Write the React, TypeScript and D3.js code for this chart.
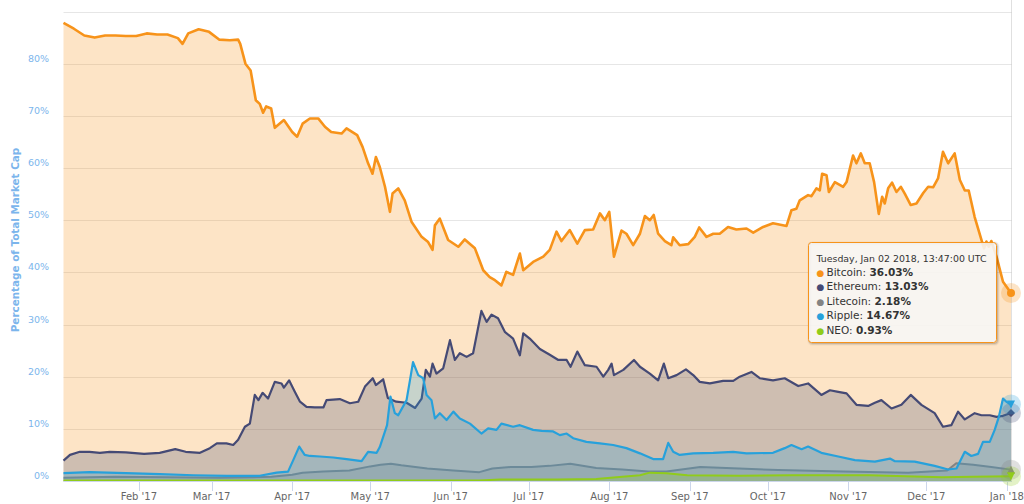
import React, { useEffect, useRef } from 'react';
import * as d3 from 'd3';

const START = Date.UTC(2017, 0, 3);
const DAY = 86400000;
const LAST = 364.574; // Jan 02 2018, 13:47 UTC

// [day offset from Jan 03 2017, % of total market cap]
const bitcoin: [number, number][] = [
  [0, 87.8], [4, 86.7], [8, 85.4], [12, 85.0], [16, 85.4], [20, 85.4], [24, 85.3], [28, 85.3],
  [32, 85.8], [36, 85.6], [40, 85.6], [44, 84.9], [45.8, 83.8], [48, 85.8], [52, 86.6], [56, 86.1],
  [60, 84.6], [64, 84.5], [67.2, 84.6], [68, 83.8], [70, 80.0], [72, 78.7], [74, 73.0], [75.5, 72.3],
  [76.8, 70.6], [78, 71.8], [79.9, 71.4], [81.3, 67.7], [84.8, 69.2], [88, 66.9], [89.9, 66.0],
  [92, 68.5], [94.8, 69.5], [98, 69.5], [100.6, 67.9], [103, 66.9], [107, 66.6], [108.9, 67.6],
  [113, 66.3], [115.1, 64.0], [117.2, 60.9], [118.9, 58.9], [120.2, 62.1], [121.7, 60.2],
  [123.7, 56.4], [125.6, 51.6], [126.6, 55.1], [128.8, 56.1], [131.3, 53.8], [133.9, 49.7],
  [137.8, 46.8], [140.3, 45.8], [142, 44.3], [142.9, 49.0], [144.8, 50.3], [148, 46.2],
  [151.9, 44.9], [154.4, 46.3], [158.3, 44.6], [161.5, 40.4], [164, 39.1], [166, 38.5],
  [168.5, 37.5], [170.4, 40.1], [173, 39.5], [175.6, 43.6], [176.9, 40.4], [180.7, 42.0],
  [184.6, 43.0], [187.1, 44.3], [189.7, 47.8], [191.6, 46.0], [194.8, 48.1], [197.7, 45.5],
  [200.6, 48.1], [203.8, 48.2], [206.4, 51.3], [208.3, 50.0], [210, 51.6], [211.8, 43.0],
  [214.7, 48.0], [216.6, 47.4], [219.2, 45.2], [221.8, 47.4], [223.7, 50.8], [225.6, 50.0],
  [227.1, 51.0], [228.8, 47.4], [231.4, 46.0], [233.9, 45.2], [234.6, 46.7], [237.1, 45.2],
  [240.4, 45.4], [242.9, 46.8], [244.6, 48.6], [247.4, 46.8], [250, 47.4], [252.5, 47.4],
  [255.7, 48.7], [258.9, 48.2], [262.8, 48.4], [265.4, 47.6], [269.2, 48.7], [273, 49.4],
  [278.2, 48.9], [280.1, 51.9], [282, 52.2], [283.3, 53.8], [286.5, 54.8], [287.8, 54.6],
  [289.7, 56.1], [291, 55.7], [291.9, 58.9], [293.6, 58.6], [294.5, 55.4], [296.8, 57.3],
  [300, 56.4], [301.3, 57.3], [303.8, 62.4], [305.1, 60.9], [306.8, 62.8], [308.3, 60.9],
  [310.2, 60.9], [311.9, 57.3], [313.7, 51.2], [315, 54.5], [316, 53.2], [317.3, 56.1],
  [318.8, 57.2], [320.5, 55.4], [322.2, 56.4], [323.7, 55.1], [326, 52.9], [328.2, 53.2],
  [330.8, 55.2], [332.7, 56.4], [334.6, 56.3], [336.5, 58.0], [338.4, 63.1], [340.4, 60.9],
  [342.9, 62.8], [344.9, 57.7], [346.8, 55.7], [348.3, 55.7], [350.6, 50.6], [353.2, 46.2],
  [354.2, 44.6], [355.1, 45.9], [356, 44.9], [357, 46.0], [359, 43.0], [361.5, 38.2], [LAST, 36.03],
];

const ethereum: [number, number][] = [
  [0, 3.9], [2.5, 5.0], [6.3, 5.6], [10, 5.6], [14, 5.4], [17.8, 5.6], [24, 5.5], [31, 5.2],
  [37, 5.4], [43, 6.1], [47, 5.6], [52.5, 5.4], [56.3, 6.3], [59, 7.2], [62.7, 7.2], [65.3, 6.9],
  [67.2, 7.9], [69.8, 10.4], [71.7, 11.0], [73.6, 16.5], [75, 15.5], [76.6, 16.9], [78.7, 15.8],
  [81.3, 19.0], [83.9, 18.7], [84.8, 17.9], [86.8, 19.3], [89, 17.1], [91, 15.2], [93.5, 14.2],
  [96.7, 14.1], [100, 14.1], [101.2, 15.5], [106.3, 15.7], [110.2, 14.9], [113.4, 15.2],
  [116, 18.1], [119, 19.7], [120.2, 18.4], [123, 19.5], [124.8, 15.9], [128, 15.2], [132, 15.0],
  [135.3, 14.0], [137.8, 15.8], [139.4, 21.3], [141, 20.0], [142, 22.5], [143.5, 20.6],
  [146.1, 21.6], [148.7, 27.0], [150.6, 23.2], [152.5, 24.5], [155.1, 23.8], [157.6, 24.5],
  [160.8, 32.6], [162.8, 30.5], [164.7, 31.9], [167.2, 31.2], [169.8, 28.6], [173, 27.3],
  [175.6, 24.1], [176.9, 28.3], [179.4, 27.3], [183.3, 25.3], [187.1, 24.2], [190.4, 23.2],
  [193.6, 23.2], [195.1, 21.9], [197.7, 24.8], [200.6, 22.2], [205.1, 21.9], [207.7, 20.0],
  [209.6, 21.3], [210.9, 22.5], [211.8, 20.3], [215.4, 21.3], [219.5, 23.2], [221.8, 21.9],
  [225.6, 20.6], [228.8, 19.3], [231, 22.5], [232.7, 19.7], [235.9, 20.3], [239.5, 21.4],
  [242.3, 20.3], [244.8, 19.0], [248.7, 18.7], [253.8, 19.2], [257.7, 19.2], [260.2, 20.0],
  [264.7, 20.9], [267.9, 19.7], [273, 19.3], [277.5, 19.7], [282.7, 18.2], [286.5, 18.7],
  [291.6, 16.5], [294.9, 17.4], [298.1, 17.1], [301.3, 16.8], [305.1, 14.6], [309.6, 14.4],
  [312.2, 15.0], [314.7, 15.5], [318.6, 13.9], [322.4, 14.6], [326, 16.5], [330.1, 14.6],
  [335.2, 13.0], [338.4, 10.4], [341.6, 10.7], [344.2, 13.3], [346.8, 11.8], [350.6, 13.0],
  [353.2, 12.6], [356.4, 12.6], [359, 12.3], [361.5, 12.5], [LAST, 13.03],
];

const litecoin: [number, number][] = [
  [0, 0.6], [20, 0.8], [40, 0.7], [60, 0.6], [80, 0.8], [88, 1.2], [92, 1.6], [100, 1.8],
  [110, 2.0], [118, 2.8], [122, 3.1], [126, 3.3], [130, 3.0], [140, 2.4], [150, 2.0],
  [160, 1.7], [165, 2.4], [172, 2.7], [180, 2.7], [187, 2.9], [195, 3.3], [205, 2.5], [215, 2.2],
  [225, 1.8], [232, 1.8], [245, 2.7], [260, 2.4], [275, 2.1], [300, 1.8], [325, 1.6], [340, 2.0],
  [343.5, 3.4], [350, 3.1], [357, 2.7], [LAST, 2.18],
];

const ripple: [number, number][] = [
  [0, 1.5], [10, 1.7], [24, 1.5], [37, 1.3], [50, 1.1], [63, 1.0], [75.5, 1.0], [82, 1.6],
  [86.4, 1.8], [88.4, 4.0], [90.7, 6.6], [92.8, 5.0], [94.8, 4.8], [98.7, 4.7], [103.8, 4.5],
  [108.9, 4.2], [114.7, 3.8], [117.2, 5.6], [120.5, 5.4], [121.7, 6.5], [124.5, 10.7],
  [125.8, 16.2], [127.5, 13.0], [128.8, 12.6], [132, 15.5], [133.3, 19.3], [134.5, 22.8],
  [136.5, 20.3], [138.4, 19.7], [139.7, 16.5], [141.6, 15.5], [142.9, 12.0], [144.8, 13.0],
  [147.4, 11.7], [150, 13.3], [152.5, 12.0], [156.4, 11.0], [160.8, 9.1], [163.4, 10.1],
  [166.6, 9.8], [168.5, 11.0], [173, 10.4], [175.6, 10.7], [180.7, 9.8], [184, 9.6],
  [188.4, 9.5], [191, 8.8], [193.6, 9.1], [196.1, 8.2], [201.2, 7.5], [206.4, 7.2], [211.5, 6.9],
  [216.6, 6.3], [221.8, 5.3], [226.9, 4.2], [230.7, 4.2], [232.7, 7.3], [234.6, 5.6],
  [237.1, 5.0], [242.3, 5.3], [250, 5.4], [257.7, 5.6], [262.8, 5.3], [273, 5.4], [277.5, 6.3],
  [280.1, 6.9], [284, 6.1], [286.5, 6.6], [291.6, 5.4], [298.1, 4.7], [304.5, 4.0], [312.2, 3.7],
  [318, 4.3], [319.9, 3.8], [327.5, 3.7], [335.2, 2.9], [340.4, 2.2], [343.6, 2.4], [346.8, 5.6],
  [349.3, 4.8], [351.9, 5.2], [353.8, 7.5], [356.4, 7.5], [358.3, 9.8], [359.9, 12.3],
  [361.5, 15.8], [362.8, 15.2], [LAST, 14.67],
];

const neo: [number, number][] = [
  [0, 0.1], [100, 0.1], [160, 0.1], [168, 0.3], [190, 0.3], [205, 0.4], [212.8, 0.7],
  [221.8, 1.1], [225.6, 1.6], [232, 1.5], [240, 1.1], [260, 1.0], [280, 1.1], [310, 1.1],
  [338, 0.7], [350, 0.8], [LAST, 0.93],
];

const seriesNames = ['Bitcoin', 'Ethereum', 'Litecoin', 'Ripple', 'NEO'];
const seriesColors = ['#f7931a', '#454a75', '#838383', '#27a1db', '#90cc1a'];
const seriesWidths = [2.6, 2.2, 2, 2.2, 2];
const seriesData = [bitcoin, ethereum, litecoin, ripple, neo];
const seriesMarkers = ['circle', 'diamond', 'triangle', 'triangle-down', 'triangle-down'];
const yTicks = [0, 10, 20, 30, 40, 50, 60, 70, 80];
const tooltipTitle = 'Tuesday, Jan 02 2018, 13:47:00 UTC';

const W = 1024;
const H = 504;
const FONT = '"DejaVu Sans", "Lucida Grande", sans-serif';

function markerPath(kind: string, r: number) {
  if (kind === 'circle') return d3.symbol(d3.symbolCircle, Math.PI * r * r)()!;
  if (kind === 'diamond') return `M0,${-r}L${r},0L0,${r}L${-r},0Z`;
  if (kind === 'triangle') return `M0,${-r}L${r},${r}L${-r},${r}Z`;
  return `M${-r},${-r}L${r},${-r}L0,${r}Z`;
}

export default function App() {
  const svgRef = useRef<SVGSVGElement>(null);

  useEffect(() => {
    if (!svgRef.current) return;
    const svg = d3.select(svgRef.current);
    svg.selectAll('*').remove();

    const left = 63.5;
    const right = 1011;
    const bottom = 481;
    const t0 = new Date(START);
    const t1 = new Date(START + LAST * DAY);

    const x = d3.scaleUtc().domain([t0, t1]).range([left, right]);
    const y = d3.scaleLinear().domain([0, 90]).range([bottom, 11.5]);
    const date = (d: number) => new Date(START + d * DAY);

    // Grid
    svg.append('g')
      .selectAll('line')
      .data(d3.range(10, 100, 10))
      .join('line')
      .attr('x1', left)
      .attr('x2', right + 1)
      .attr('y1', d => Math.round(y(d)) + 0.5)
      .attr('y2', d => Math.round(y(d)) + 0.5)
      .attr('stroke', '#e6e6e6');

    // Series: area then line, in order
    const area = d3.area<[number, number]>()
      .x(d => x(date(d[0])))
      .y0(y(0))
      .y1(d => y(d[1]));
    const line = d3.line<[number, number]>()
      .x(d => x(date(d[0])))
      .y(d => y(d[1]));

    seriesData.forEach((pts, i) => {
      svg.append('path')
        .datum(pts)
        .attr('d', area)
        .attr('fill', seriesColors[i])
        .attr('fill-opacity', 0.25);
      svg.append('path')
        .datum(pts)
        .attr('d', line)
        .attr('fill', 'none')
        .attr('stroke', seriesColors[i])
        .attr('stroke-width', seriesWidths[i])
        .attr('stroke-linejoin', 'round');
    });

    // Crosshair
    svg.append('line')
      .attr('x1', right + 0.5).attr('x2', right + 0.5)
      .attr('y1', 0).attr('y2', bottom)
      .attr('stroke', '#cccccc')
      .attr('stroke-opacity', 0.6);

    // X axis
    const months = d3.utcMonth.range(new Date(Date.UTC(2017, 1, 1)), new Date(Date.UTC(2018, 0, 2)));
    const xa = svg.append('g');
    xa.append('line')
      .attr('x1', left).attr('x2', right + 1)
      .attr('y1', bottom + 0.5).attr('y2', bottom + 0.5)
      .attr('stroke', '#ccd6eb');
    xa.selectAll('line.tick')
      .data(months)
      .join('line')
      .attr('class', 'tick')
      .attr('x1', d => Math.round(x(d)) + 0.5)
      .attr('x2', d => Math.round(x(d)) + 0.5)
      .attr('y1', bottom)
      .attr('y2', bottom + 10)
      .attr('stroke', '#ccd6eb');
    xa.selectAll('text')
      .data(months)
      .join('text')
      .attr('x', d => x(d))
      .attr('y', 500)
      .attr('text-anchor', 'middle')
      .attr('font-family', FONT)
      .attr('font-size', 10)
      .attr('fill', '#666666')
      .text(d => d3.utcFormat("%b '%y")(d));

    // Y axis labels
    svg.append('g')
      .selectAll('text')
      .data(yTicks)
      .join('text')
      .attr('x', 49)
      .attr('y', d => y(d) - 2)
      .attr('text-anchor', 'end')
      .attr('font-family', FONT)
      .attr('font-size', 9.5)
      .attr('fill', '#7cb5ec')
      .text(d => `${d}%`);

    svg.append('text')
      .attr('transform', 'translate(19,240) rotate(-90)')
      .attr('text-anchor', 'middle')
      .attr('font-family', FONT)
      .attr('font-size', 10.4)
      .attr('font-weight', 'bold')
      .attr('fill', '#7cb5ec')
      .text('Percentage of Total Market Cap');

    // End markers with halos
    seriesData.forEach((pts, i) => {
      const last = pts[pts.length - 1];
      const g = svg.append('g')
        .attr('transform', `translate(${x(date(last[0]))},${y(last[1])})`);
      g.append('circle')
        .attr('r', 10)
        .attr('fill', seriesColors[i])
        .attr('fill-opacity', 0.25);
      g.append('path')
        .attr('d', markerPath(seriesMarkers[i], 4))
        .attr('fill', seriesColors[i]);
    });

    // Tooltip
    const tip = svg.append('g').attr('transform', 'translate(808.5,242.5)');
    [5, 3, 1].forEach(w => {
      tip.append('rect')
        .attr('x', 1).attr('y', 1)
        .attr('width', 188).attr('height', 100)
        .attr('rx', 3)
        .attr('fill', 'none')
        .attr('stroke', '#000')
        .attr('stroke-opacity', 0.05 * (6 - w) / 2)
        .attr('stroke-width', w);
    });
    tip.append('rect')
      .attr('width', 188).attr('height', 100)
      .attr('rx', 3)
      .attr('fill', 'rgba(247,247,247,0.88)')
      .attr('stroke', '#f7931a');
    tip.append('text')
      .attr('x', 8).attr('y', 19)
      .attr('font-family', FONT)
      .attr('font-size', 9.4)
      .attr('fill', '#333333')
      .text(tooltipTitle);
    const lastValues = seriesData.map(pts => pts[pts.length - 1][1]);
    seriesNames.forEach((name, i) => {
      const ty = 33 + i * 14.5;
      tip.append('text')
        .attr('x', 8).attr('y', ty)
        .attr('font-family', FONT)
        .attr('font-size', 9)
        .attr('fill', seriesColors[i])
        .text('●');
      const t = tip.append('text')
        .attr('x', 18).attr('y', ty)
        .attr('font-family', FONT)
        .attr('font-size', 10.5)
        .attr('fill', '#333333');
      t.append('tspan').text(`${name}: `);
      t.append('tspan').attr('font-weight', 'bold').text(`${lastValues[i].toFixed(2)}%`);
    });
  }, []);

  return (
    <div style={{ position: 'absolute', left: 0, top: 0, width: W, height: H, background: '#fff' }}>
      <svg ref={svgRef} width={W} height={H} />
    </div>
  );
}
